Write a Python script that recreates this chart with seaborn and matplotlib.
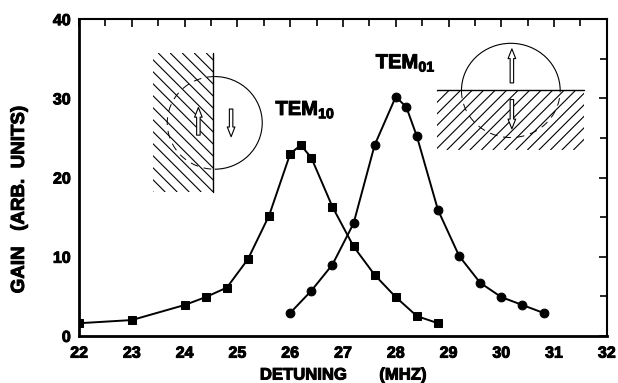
import numpy as np
import pandas as pd
import seaborn as sns
import matplotlib
matplotlib.use("Agg")
import matplotlib.pyplot as plt
import matplotlib.patheffects as pe
from matplotlib.patches import Rectangle, Arc
from matplotlib.ticker import MultipleLocator

# Data
tem10_x = [22.0, 23.0, 24.0, 24.4, 24.8, 25.2, 25.6, 26.0, 26.2, 26.4, 26.8, 27.2, 27.6, 28.0, 28.4, 28.8]
tem10_y = [1.6, 2.0, 3.9, 4.9, 6.1, 9.7, 15.2, 23.0, 24.1, 22.5, 16.3, 11.3, 7.7, 4.9, 2.5, 1.6]
tem01_x = [26.0, 26.4, 26.8, 27.2, 27.6, 28.0, 28.2, 28.4, 28.8, 29.2, 29.6, 30.0, 30.4, 30.8]
tem01_y = [2.9, 5.7, 9.0, 14.2, 24.1, 30.2, 28.9, 25.2, 15.9, 10.1, 6.7, 4.9, 3.9, 2.9]
x_ticks = [22, 23, 24, 25, 26, 27, 28, 29, 30, 31, 32]
y_ticks = [0, 10, 20, 30, 40]

sns.set_style("white")
plt.rcParams['font.family'] = ['Liberation Sans', 'DejaVu Sans']
plt.rcParams['font.weight'] = 'bold'
plt.rcParams['text.color'] = 'black'
plt.rcParams['axes.labelcolor'] = 'black'
plt.rcParams['mathtext.fontset'] = 'custom'
plt.rcParams['mathtext.rm'] = 'Liberation Sans:bold'
plt.rcParams['mathtext.bf'] = 'Liberation Sans:bold'

heavy = [pe.withStroke(linewidth=0.7, foreground='black')]

fig = plt.figure(figsize=(6.18, 3.83), dpi=100)
ax = fig.add_axes([0.128, 0.123, 0.854, 0.827])

df10 = pd.DataFrame({"x": tem10_x, "y": tem10_y})
df01 = pd.DataFrame({"x": tem01_x, "y": tem01_y})
sns.lineplot(data=df10, x="x", y="y", ax=ax, color="black", lw=1.4, marker="s",
             markersize=5.8, markeredgecolor="black", sort=False)
sns.lineplot(data=df01, x="x", y="y", ax=ax, color="black", lw=1.4, marker="o",
             markersize=6.3, markeredgecolor="black", sort=False)

ax.set_xlim(22, 32)
ax.set_ylim(0, 40)
ax.set_xticks(x_ticks)
ax.set_yticks(y_ticks)
ax.xaxis.set_minor_locator(MultipleLocator(0.5))
ax.yaxis.set_minor_locator(MultipleLocator(5))
ax.tick_params(which='both', direction='in', top=True, right=True, labelsize=11.5,
               width=1.2, labelcolor='black', color='black')
ax.tick_params(axis='x', pad=7)
ax.tick_params(axis='y', pad=6)
ax.tick_params(which='major', length=6)
ax.tick_params(which='minor', length=5)
for s in ax.spines.values():
    s.set_linewidth(1.5)
    s.set_color("black")
ax.spines['left'].set_linewidth(2)
ax.spines['bottom'].set_linewidth(2)
for lab in ax.get_xticklabels() + ax.get_yticklabels():
    lab.set_fontweight('bold')
    lab.set_path_effects(heavy)

ax.set_xlabel("DETUNING       (MHZ)", fontsize=12, fontweight='bold', labelpad=5,
              path_effects=heavy)
ax.set_ylabel("GAIN   (ARB.  UNITS)", fontsize=13.5, fontweight='bold',
              path_effects=heavy)
ax.yaxis.set_label_coords(-0.097, 0.43)

# Labels
ax.text(25.72, 27.9, r"TEM$_{\mathbf{10}}$", fontsize=14.5, fontweight='bold',
        ha='left', va='baseline', path_effects=heavy)
ax.text(27.62, 33.8, r"TEM$_{\mathbf{01}}$", fontsize=14.5, fontweight='bold',
        ha='left', va='baseline', path_effects=heavy)


def hatch(x0, x1, y0, y1, sign, spacing=12.0):
    rect = Rectangle((x0, y0), x1 - x0, y1 - y0, fill=False, lw=0, transform=ax.transData)
    ax.add_patch(rect)
    T = ax.transData
    inv = T.inverted()
    X0, Y0 = T.transform((x0, y0))
    X1, Y1 = T.transform((x1, y1))
    W, H = X1 - X0, Y1 - Y0
    for c in np.arange(-H, W + H, spacing):
        if sign > 0:
            p = [(X0 + c, Y0), (X0 + c + H, Y1)]
        else:
            p = [(X0 + c, Y1), (X0 + c + H, Y0)]
        d = inv.transform(p)
        ln, = ax.plot(d[:, 0], d[:, 1], color='black', lw=0.8, scalex=False, scaley=False)
        ln.set_clip_path(rect)


arrow_style = "simple,head_width=0.55,head_length=0.7,tail_width=0.25"

# Left inset: vertically split hatched region
hatch(23.40, 24.53, 18.2, 35.7, -1, 12.0)
ax.plot([24.53, 24.53], [18.2, 35.7], color='black', lw=1.0)
cx, cy, w, h = 24.57, 26.9, 1.80, 11.7
ax.add_patch(Arc((cx, cy), w, h, theta1=-90, theta2=90, color='black', lw=0.8))
ax.add_patch(Arc((cx, cy), w, h, theta1=90, theta2=270, color='black', lw=0.7, ls=(0, (8, 6))))
ax.annotate("", xy=(24.26, 29.2), xytext=(24.26, 25.0),
            arrowprops=dict(arrowstyle=arrow_style, fc='white', ec='black', lw=0.8))
ax.annotate("", xy=(24.88, 24.8), xytext=(24.88, 29.0),
            arrowprops=dict(arrowstyle=arrow_style, fc='white', ec='black', lw=0.8))

# Right inset: horizontally split hatched region
hatch(28.79, 31.57, 23.5, 31.0, +1, 11.5)
ax.plot([28.79, 31.57], [31.0, 31.0], color='black', lw=1.0)
cx, cy, w, h = 30.18, 31.0, 1.87, 11.9
ax.add_patch(Arc((cx, cy), w, h, theta1=0, theta2=180, color='black', lw=0.8))
ax.add_patch(Arc((cx, cy), w, h, theta1=180, theta2=360, color='black', lw=0.7, ls=(0, (8, 6))))
ax.annotate("", xy=(30.2, 36.6), xytext=(30.2, 31.6),
            arrowprops=dict(arrowstyle=arrow_style, fc='white', ec='black', lw=0.8))
ax.annotate("", xy=(30.2, 25.8), xytext=(30.2, 30.2),
            arrowprops=dict(arrowstyle=arrow_style, fc='white', ec='black', lw=0.8))

fig.savefig("out.png", dpi=100)
